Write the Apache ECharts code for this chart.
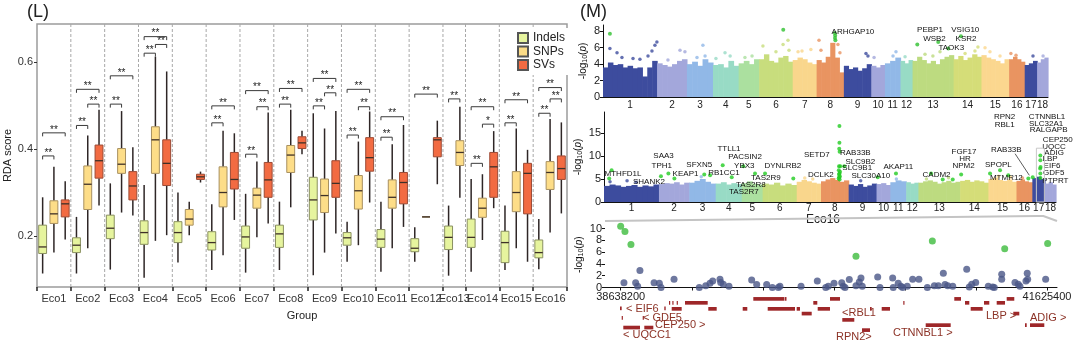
<!DOCTYPE html>
<html><head><meta charset="utf-8">
<script src="https://cdn.jsdelivr.net/npm/echarts@6/dist/echarts.min.js"></script>
<style>html,body{margin:0;padding:0;background:#fff}#c{width:1080px;height:348px}</style>
</head><body><div id="c"></div>
<script>
// ================= (L) RDA score boxplots =================
const groups = ['Eco1','Eco2','Eco3','Eco4','Eco5','Eco6','Eco7','Eco8','Eco9','Eco10','Eco11','Eco12','Eco13','Eco14','Eco15','Eco16'];
const typeNames = ['Indels','SNPs','SVs'];
// [min, Q1, median, Q3, max]
const indelsStats = [
 [0.114,0.160,0.175,0.225,0.289],[0.114,0.162,0.179,0.196,0.244],[0.123,0.194,0.218,0.248,0.321],
 [0.104,0.181,0.208,0.235,0.317],[0.139,0.185,0.208,0.233,0.300],[0.122,0.168,0.185,0.210,0.273],
 [0.116,0.172,0.198,0.223,0.297],[0.122,0.174,0.205,0.225,0.279],[0.110,0.237,0.283,0.335,0.482],
 [0.141,0.179,0.196,0.208,0.233],[0.118,0.174,0.193,0.215,0.279],[0.141,0.164,0.172,0.194,0.220],
 [0.109,0.169,0.197,0.223,0.270],[0.118,0.174,0.197,0.239,0.331],[0.122,0.139,0.185,0.211,0.270],
 [0.124,0.150,0.162,0.191,0.239]
];
const snpsStats = [
 [0.162,0.229,0.251,0.281,0.359],[0.172,0.261,0.319,0.361,0.431],[0.254,0.344,0.365,0.401,0.487],
 [0.189,0.344,0.421,0.451,0.612],[0.202,0.225,0.239,0.261,0.279],[0.156,0.267,0.300,0.359,0.442],
 [0.197,0.264,0.294,0.310,0.371],[0.266,0.346,0.386,0.408,0.490],[0.162,0.254,0.293,0.331,0.447],
 [0.179,0.262,0.304,0.339,0.417],[0.172,0.264,0.289,0.329,0.411],[0.244,0.244,0.244,0.244,0.244],
 [0.288,0.362,0.392,0.419,0.497],[0.191,0.243,0.264,0.287,0.342],[0.172,0.256,0.300,0.348,0.447],
 [0.208,0.307,0.346,0.371,0.469]
];
const svsStats = [
 [0.192,0.244,0.274,0.283,0.326],[0.270,0.333,0.373,0.409,0.490],[0.247,0.283,0.315,0.348,0.404],
 [0.202,0.316,0.367,0.421,0.578],[0.323,0.330,0.336,0.342,0.348],[0.237,0.308,0.330,0.392,0.436],
 [0.229,0.289,0.329,0.369,0.484],[0.388,0.401,0.414,0.428,0.442],[0.206,0.289,0.321,0.373,0.487],
 [0.277,0.349,0.380,0.426,0.486],[0.221,0.274,0.323,0.346,0.455],[0.319,0.382,0.421,0.426,0.465],
 null,[0.264,0.289,0.359,0.392,0.441],[0.141,0.251,0.344,0.367,0.398],[0.252,0.330,0.355,0.384,0.461]
];
// [group index, type a, type b, bracket height, label]
const sigPairs = [
 [0,0,1,0.384,'**'],[0,0,2,0.437,'**'],
 [1,0,1,0.454,'**'],[1,1,2,0.503,'**'],[1,0,2,0.537,'**'],
 [2,0,1,0.503,'**'],[2,0,2,0.568,'**'],
 [3,0,1,0.620,'**'],[3,1,2,0.640,'**'],[3,0,2,0.658,'**'],
 [5,0,1,0.460,'**'],[5,0,2,0.499,'**'],
 [6,0,1,0.388,'**'],[6,1,2,0.497,'**'],[6,0,2,0.534,'**'],
 [7,0,1,0.503,'**'],[7,0,2,0.539,'**'],
 [8,0,1,0.499,'**'],[8,1,2,0.529,'**'],[8,0,2,0.562,'**'],
 [9,0,1,0.432,'**'],[9,1,2,0.497,'**'],[9,0,2,0.537,'**'],
 [10,0,1,0.427,'**'],[10,0,2,0.474,'**'],
 [11,0,2,0.526,'**'],
 [12,0,1,0.515,'**'],
 [13,0,1,0.367,'**'],[13,1,2,0.457,'*'],[13,0,2,0.497,'**'],
 [14,0,1,0.460,'**'],[14,0,2,0.513,'**'],
 [15,0,1,0.482,'**'],[15,1,2,0.515,'**'],[15,0,2,0.541,'**']
];
const rdaTicks = [0.2, 0.4, 0.6];

// ================= (M) GWAS =================
const chrNames = ['1','2','3','4','5','6','7','8','9','10','11','12','13','14','15','16','17','18'];
const chrSizesMb = [274,151,132,130,104,170,121,138,139,69,79,61,208,141,140,79,63,55];
// upper envelope of the dense SNP cloud, genome-wide panel
const topEnvelope = [
 [3.6,4.2,3.9,4.0,3.6,3.8,3.5,3.6,2.5,3.6,4.4],[4.1,3.9,3.7,4.0,4.4,4.6],[4.0,4.3,3.8,4.6,4.2],
 [3.9,4.0,3.6,4.4,3.8],[4.1,4.4,4.0,4.6],[4.6,5.2,4.4,4.2,4.8,5.0,4.3],[4.5,4.8,4.6,4.2,4.0],
 [4.5,4.2,4.9,6.6,4.8,3.0],[3.8,3.4,3.6,3.2,3.5,4.0],[3.8,3.6,3.9],[4.1,4.4,4.8],[4.4,4.1,4.5],
 [4.4,4.9,4.5,4.1,4.4,4.0,4.6,4.9,5.1],[4.6,5.0,4.5,4.8,5.2,4.9],[5.1,4.8,4.6,4.4,4.1,4.6],
 [4.6,4.9,4.6,4.3],[3.9,4.1,4.4],[4.2,4.6,4.8]
];
// [chromosome, position (Mb), -log10 p]
const topPoints = [
 [1,35,5.9],[1,71,5.4],[1,96,4.8],[1,152,4.7],[1,187,4.6],[1,228,5.0],[1,248,5.6],[1,263,6.3],[1,273,6.7],
 [2,55,4.5],[2,116,5.7],[2,141,5.5],[3,51,4.8],[3,81,6.3],[3,92,5.0],[4,15,4.7],[4,61,5.4],[4,87,5.0],
 [5,32,4.8],[5,68,5.0],[6,19,6.2],[6,85,5.5],[6,121,6.4],[6,146,6.9],[6,151,5.7],[7,27,5.5],[7,47,5.6],[7,92,5.8],
 [8,12,6.9],[8,22,5.7],[8,108,6.4],[8,118,5.4],[9,112,5.3],[9,122,5.0],[10,14,4.8],[11,41,5.0],[11,56,5.5],
 [12,23,4.9],[13,63,5.2],[13,103,5.0],[13,139,5.5],[14,58,5.3],[14,108,5.6],[14,123,6.1],[15,18,6.0],[15,43,5.5],
 [15,94,5.0],[16,9,5.3],[16,35,5.1],[17,42,5.0],[18,30,5.0]
];
const topHits = [[1,35,7.7],[6,122,8.2],[8,92,7.8],[8,94,7.5],[8,93,7.2],[8,95,6.9],[13,24,6.4],[13,130,6.7],[13,181,5.9],[14,37,7.4]];
// [genome position (Mb), -log10 p, gene]
const topLabels = [[1266,7.92,'ARHGAP10'],[1656,8.2,'PEBP1'],[1835,8.2,'VSIG10'],[1679,7.1,'WSB2'],[1839,7.1,'KSR2'],[1764,6.0,'TAOK3']];

// Eco16 genome-wide panel
const midEnvelope = [
 [3.5,3.8,3.6,3.3,3.5,3.7,3.3,3.6,3.4,3.8],[3.9,4.1,4.0,4.3,3.8,4.2],[4.2,4.6,5.0,4.4,4.0],
 [4.0,4.3,3.8,4.1,3.9],[4.1,4.5,4.0,3.8],[4.0,3.8,4.2,3.6,4.0,3.7],[4.4,4.8,4.5,4.2,4.0],
 [4.5,4.9,5.2,4.8,4.4,4.7],[3.8,3.5,3.9,3.3,3.6,4.0],[3.9,4.1,3.7],[4.3,4.7,4.5],[4.3,4.0,4.2],
 [4.2,4.5,4.7,4.4,4.0,4.3,4.6,4.2,4.4],[4.6,4.8,4.4,4.7,4.5,4.2],[5.0,5.3,4.8,4.6,4.9,4.4],
 [4.6,4.9,4.5,4.3],[5.2,5.5,5.0],[4.0,4.3,3.8]
];
const midPoints = [[1,30,4.4],[1,115,4.6],[1,160,4.3],[3,60,5.5],[7,40,5.2],[7,80,5.0],[9,60,4.6],[11,30,5.0],
 [13,40,5.0],[13,150,5.3],[15,50,5.6],[15,110,5.4],[16,30,5.2]];
const midHits = [
 [1,38,6.9],[1,26,5.1],[2,10,5.6],[2,47,6.2],[2,77,5.1],[3,75,6.0],[3,104,5.8],[4,35,8.0],[4,80,5.4],
 [5,8,7.8],[5,66,6.2],[6,12,6.2],[6,153,5.1],
 [8,92,16.5],[8,92,12.9],[8,91,11.6],[8,93,10.9],[8,96,7.8],[8,90,7.8],[8,89,6.9],[8,92,6.2],[8,91,5.4],
 [8,94,5.6],[8,88,5.1],[8,95,6.6],[8,90,6.0],[8,93,4.9],[8,116,7.8],
 [10,6,5.4],[11,28,6.2],[13,63,6.2],[13,121,4.9],[13,171,4.9],[14,5,6.0],[15,8,6.2],[15,58,6.9],[15,99,5.8],
 [16,59,5.1],[17,2,5.4],
 [17,40,10.1],[17,40,9.1],[17,41,7.6],[17,39,7.3],[17,40,6.2],[17,40,5.2]
];
const midLabels = [
 [94.8,6.2,'MTHFD1L'],[224.4,4.5,'SHANK2'],[296.8,10.0,'SAA3'],[287.8,7.8,'TPH1'],[406.5,6.2,'KEAP1'],
 [474.8,8.0,'SFXN5'],[598.5,6.3,'RB1CC1'],[623.4,11.6,'TTLL1'],[703.2,9.8,'PACSIN2'],[699.8,7.8,'YBX3'],
 [891.8,7.8,'DYNLRB2'],[807.0,5.2,'TAS2R9'],[732.2,3.8,'TAS2R8'],[697.3,2.3,'TAS2R7'],[1061.3,10.2,'SETD7'],
 [1081.3,6.0,'DCLK2'],[1253.4,10.7,'RAB33B'],[1278.3,8.7,'SLC9B2'],[1262.8,7.4,'SLC9B1'],[1330.7,5.6,'SLC30A10'],
 [1467.8,7.6,'AKAP11'],[1658.4,6.0,'CADM2'],[1795.5,10.9,'FGF17'],[1800.5,9.3,'HR'],[1793.0,7.8,'NPM2'],
 [1966.6,8.0,'SPOPL'],[2006.5,5.2,'MTMR12'],[2006.0,11.4,'RAB33B'],[1997.5,18.5,'RPN2'],[1998.5,16.7,'RBL1'],
 [2209.5,18.5,'CTNNBL1'],[2204.5,16.9,'SLC32A1'],[2217.0,15.6,'RALGAPB'],[2262.8,13.6,'CEP250'],
 [2244.4,12.1,'UQCC'],[2244.4,10.7,'ADIG'],[2224.4,9.3,'LBP'],[2234.4,7.8,'EIF6'],[2242.9,6.3,'GDF5'],[2250.9,4.7,'PTPRT']
];
const midPointer = [[2050,10.5,2121,5.8]];
const regionChr = 17;
const regionMb = [38.6382, 41.6254];

// regional plot chr17: [position (Mb), -log10 p]
const regionPoints = [
 [38.773,2.9],[38.661,0.8],[38.743,0.8],[38.757,0.2],[38.872,0.8],[38.909,0.7],[38.921,0.0],[39.012,1.4],
 [39.189,0.0],[39.234,0.3],[39.264,0.7],[39.283,1.1],[39.334,1.4],[39.339,0.85],[39.357,0.55],[39.397,0.2],
 [39.556,1.25],[39.591,0.5],[39.661,0.5],[39.701,0.0],[39.743,0.0],[39.754,0.2],[39.902,0.2],[40.016,1.1],
 [40.075,0.0],[40.093,0.2],[40.133,0.7],[40.187,0.8],[40.198,0.2],[40.210,0.0],[40.240,1.35],[40.287,0.3],
 [40.310,0.95],[40.322,1.6],[40.331,0.2],[40.439,1.8],[40.455,0.0],[40.544,1.6],[40.548,0.0],[40.583,0.7],
 [40.602,0.2],[40.614,0.0],[40.646,0.2],[40.684,1.4],[40.728,1.4],[40.787,0.0],[40.836,0.3],[40.864,0.3],
 [40.899,2.4],[40.911,0.5],[40.930,0.3],[40.965,0.2],[41.063,3.1],[41.081,0.1],[41.098,0.55],[41.126,0.85],
 [41.214,0.2],[41.245,0.1],[41.256,0.0],[41.308,2.25],[41.308,1.4],[41.401,0.85],[41.424,0.55],[41.436,0.2],
 [41.478,1.1],[41.487,2.4],[41.490,1.4],[41.616,1.4]
];
const regionHits = [[38.638,10.4],[38.668,9.5],[38.710,7.3],[40.287,5.3],[40.822,7.9],[41.329,6.55],[41.630,7.45]];
const regionTicksMb = [38.6382,39.1361,39.6340,40.1318,40.6297,41.1275,41.6254];
const regionLabelsMb = [38.6382, 41.6254];
// genes: [start Mb, end Mb, track row]
const geneBlocks = [
 [39.5674,39.7847,0.2],[39.788,39.800,0.2],[40.1048,40.1749,0.2],[40.9758,41.0228,0.2],[41.3430,41.3962,0.2],
 [39.0888,39.2478,0.95],[38.9767,38.9837,0.95],[39.0000,39.0070,0.95],[39.0306,39.0376,0.95],[39.9878,40.0158,0.95],
 [40.6184,40.6254,0.95],[41.0508,41.0809,0.95],[41.1839,41.2211,0.95],[41.2729,41.3310,0.95],
 [38.6333,38.6452,2.0],[38.9437,38.9535,2.0],[38.9956,39.0656,2.1],[39.2520,39.3109,2.1],[39.4931,39.5253,2.1],
 [39.6683,39.8596,2.1],[39.8714,39.8945,2.1],[40.0186,40.1048,2.1],[40.3851,40.3970,2.1],[40.4671,40.5253,2.1],
 [41.0907,41.1748,2.1],
 [39.9065,39.9766,3.0],[41.3892,41.4313,3.0],
 [40.1910,40.2751,4.2],[38.6452,38.6522,3.8],[38.7924,38.7994,3.8],
 [40.7754,40.9506,5.2],[41.5063,41.6065,5.2],[41.4713,41.4832,5.2],[38.6564,38.7734,5.66],[38.8036,38.8667,5.66],
 [40.3291,40.3851,6.15]
];
// gene names: [label start Mb, track row, text]
const geneNames = [
 [38.675,2.48,'< EIF6'],[38.794,4.25,'< GDF5'],[38.879,5.52,'CEP250 >'],[38.654,7.43,'< UQCC1'],
 [40.189,3.30,'<RBL1'],[40.147,7.75,'RPN2>'],[40.546,7.10,'CTNNBL1 >'],[41.198,3.75,'LBP >'],[41.506,4.25,'ADIG >']
];

// ================= build =================
const FONT = '"Liberation Sans", Arial, sans-serif';
const chrPalette = ['#3d4c9e','#a3a7db','#91b8e7','#98dbc5','#abe09f','#c8dd7d','#f9d68c','#e99461',
  '#3d4c9e','#a3a7db','#91b8e7','#98dbc5','#bddb80','#d5dd78','#fbd78f','#e99461','#3d4c9e','#a3a7db'];
const boxFill = ['#e6f49e','#fddd88','#f26b42'];
const boxBorder = ['#8a9060','#a89060','#9c4a34'];

const statsByType = [indelsStats, snpsStats, svsStats];
const slotOf = {}; const gStart = [], gEnd = [];
let cursor = 0;
groups.forEach((g, i) => {
  gStart.push(cursor);
  statsByType.forEach((st, t) => { if (st[i]) { slotOf[i + '_' + t] = cursor + 0.5; cursor++; } });
  gEnd.push(cursor);
});
const totalSlots = cursor;
const gCenters = groups.map((g, i) => (gStart[i] + gEnd[i]) / 2);
const boundaries = [0].concat(gEnd);

const chrStart = []; let acc = 0;
chrSizesMb.forEach(s => { chrStart.push(acc); acc += s; });
const genomeLen = acc;
const chrCenters = chrSizesMb.map((s, i) => chrStart[i] + s / 2);
const gpos = (c, p) => chrStart[c - 1] + p;

function envelopeItems(env) {
  const out = [];
  env.forEach((arr, c) => {
    const w = chrSizesMb[c] / arr.length;
    arr.forEach((h, k) => out.push([chrStart[c] + k * w, chrStart[c] + (k + 1) * w, h, c]));
  });
  return out;
}
function renderEnv(params, api) {
  const p0 = api.coord([api.value(0), 0]);
  const p1 = api.coord([api.value(1), api.value(2)]);
  return { type: 'rect', shape: { x: p0[0], y: p1[1], width: p1[0] - p0[0] + 0.6, height: p0[1] - p1[1] },
    style: { fill: chrPalette[api.value(3)] } };
}
function textSeries(list, ai, size, color, align, valign) {
  return { type: 'custom', xAxisIndex: ai, yAxisIndex: ai, silent: true, z: 6,
    data: list.map(d => [d[0], d[1]]),
    renderItem: (params, api) => {
      const p = api.coord([api.value(0), api.value(1)]);
      return { type: 'text', x: p[0], y: p[1], style: { text: list[params.dataIndex][2], fontSize: size,
        fontFamily: FONT, fill: color, align: align, verticalAlign: valign } };
    } };
}
function chrLabelFmt(v) {
  let best = 0, bd = 1e9;
  chrCenters.forEach((c, i) => { const d = Math.abs(c - v); if (d < bd) { bd = d; best = i; } });
  return chrNames[best];
}
const logName = '-log{s|10}({i|p})';
const logNameStyle = { fontSize: 10, fontFamily: FONT, color: '#111',
  rich: { s: { fontSize: 7, fontFamily: FONT, verticalAlign: 'bottom', padding: [4, 0, 0, 0] }, i: { fontSize: 10, fontFamily: FONT, fontStyle: 'italic' } } };
const axisLbl = { fontSize: 11, fontFamily: FONT, color: '#222', showMinLabel: true, showMaxLabel: true, hideOverlap: false };
const chrLbl = { fontSize: 10, fontFamily: FONT, color: '#222', showMinLabel: true, showMaxLabel: true, hideOverlap: false };

const regionXMin = 38.5282, regionXMax = 41.6955, regionYMax = 11.1;
const regionCenterG = gpos(regionChr, (regionMb[0] + regionMb[1]) / 2);

const series = [];
// separators
series.push({ type: 'custom', xAxisIndex: 0, yAxisIndex: 0, silent: true, z: 1,
  data: gEnd.slice(0, -1).map(v => [v]),
  renderItem: (params, api) => {
    const cs = params.coordSys; const x = api.coord([api.value(0), 0.3])[0];
    return { type: 'line', shape: { x1: x, y1: cs.y, x2: x, y2: cs.y + cs.height },
      style: { stroke: '#a8a8a8', lineWidth: 1, lineDash: [3, 2] } };
  } });
// boxes
typeNames.forEach((name, t) => {
  const data = [];
  groups.forEach((g, i) => { const s = statsByType[t][i]; if (s) data.push([slotOf[i + '_' + t]].concat(s)); });
  series.push({ type: 'custom', name: name, xAxisIndex: 0, yAxisIndex: 0, z: 3,
    itemStyle: { color: boxFill[t], borderColor: '#555', borderWidth: 1 },
    encode: { x: 0, y: [1, 2, 3, 4, 5] }, data: data,
    renderItem: (params, api) => {
      const s = api.value(0);
      const pMin = api.coord([s, api.value(1)]), pQ1 = api.coord([s, api.value(2)]), pMd = api.coord([s, api.value(3)]);
      const pQ3 = api.coord([s, api.value(4)]), pMax = api.coord([s, api.value(5)]);
      const w = api.size([0.7, 0])[0]; const x = pMd[0];
      const wl = { stroke: '#2e2626', lineWidth: 1.5 };
      return { type: 'group', children: [
        { type: 'line', shape: { x1: x, y1: pMax[1], x2: x, y2: pQ3[1] }, style: wl },
        { type: 'line', shape: { x1: x, y1: pQ1[1], x2: x, y2: pMin[1] }, style: wl },
        { type: 'rect', shape: { x: x - w / 2, y: pQ3[1], width: w, height: pQ1[1] - pQ3[1] },
          style: { fill: boxFill[t], stroke: boxBorder[t], lineWidth: 1 } },
        { type: 'line', shape: { x1: x - w / 2, y1: pMd[1], x2: x + w / 2, y2: pMd[1] }, style: { stroke: '#3e3028', lineWidth: 1.3 } }
      ] };
    } });
});
// significance brackets
series.push({ type: 'custom', xAxisIndex: 0, yAxisIndex: 0, silent: true, z: 4,
  data: sigPairs.map(p => [slotOf[p[0] + '_' + p[1]], slotOf[p[0] + '_' + p[2]], p[3]]),
  renderItem: (params, api) => {
    const a = api.coord([api.value(0), api.value(2)]), b = api.coord([api.value(1), api.value(2)]);
    const d = 3.5;
    return { type: 'group', children: [
      { type: 'polyline', shape: { points: [[a[0], a[1] + d], [a[0], a[1]], [b[0], b[1]], [b[0], b[1] + d]] },
        style: { stroke: '#3a3a3a', lineWidth: 1, fill: null } },
      { type: 'text', x: (a[0] + b[0]) / 2, y: a[1] - 3, style: { text: sigPairs[params.dataIndex][4], fontSize: 10,
        fontFamily: FONT, fill: '#222', align: 'center', verticalAlign: 'middle' } }
    ] };
  } });

// top manhattan
series.push({ type: 'custom', xAxisIndex: 1, yAxisIndex: 1, silent: true, data: envelopeItems(topEnvelope), renderItem: renderEnv });
series.push({ type: 'scatter', xAxisIndex: 1, yAxisIndex: 1, silent: true, symbolSize: 3.5,
  data: topPoints.map(d => [gpos(d[0], d[1]), d[2], d[0] - 1]), itemStyle: { color: p => chrPalette[p.data[2]] } });
series.push({ type: 'scatter', xAxisIndex: 1, yAxisIndex: 1, silent: true, symbolSize: 4, z: 5,
  data: topHits.map(d => [gpos(d[0], d[1]), d[2]]), itemStyle: { color: '#2fc02f' } });
series.push(textSeries(topLabels, 1, 8, '#111', 'center', 'middle'));

// middle manhattan (Eco16)
series.push({ type: 'custom', xAxisIndex: 2, yAxisIndex: 2, silent: true, data: envelopeItems(midEnvelope), renderItem: renderEnv });
series.push({ type: 'scatter', xAxisIndex: 2, yAxisIndex: 2, silent: true, symbolSize: 3.5,
  data: midPoints.map(d => [gpos(d[0], d[1]), d[2], d[0] - 1]), itemStyle: { color: p => chrPalette[p.data[2]] } });
series.push({ type: 'scatter', xAxisIndex: 2, yAxisIndex: 2, silent: true, symbolSize: 4, z: 5,
  data: midHits.map(d => [gpos(d[0], d[1]), d[2]]), itemStyle: { color: '#22cc22' } });
series.push(textSeries(midLabels, 2, 8, '#111', 'center', 'middle'));
series.push({ type: 'custom', xAxisIndex: 2, yAxisIndex: 2, silent: true, z: 6, data: midPointer,
  renderItem: (params, api) => {
    const a = api.coord([api.value(0), api.value(1)]), b = api.coord([api.value(2), api.value(3)]);
    return { type: 'line', shape: { x1: a[0], y1: a[1], x2: b[0], y2: b[1] }, style: { stroke: '#333', lineWidth: 0.8 } };
  } });
series.push({ type: 'custom', xAxisIndex: 2, yAxisIndex: 2, silent: true, z: 7, data: [[regionCenterG, 11.7]],
  renderItem: (params, api) => {
    const top = api.coord([api.value(0), api.value(1)]), bot = api.coord([api.value(0), 0]);
    return { type: 'rect', shape: { x: top[0] - 4, y: top[1], width: 8, height: bot[1] - top[1] },
      style: { fill: null, stroke: '#c8c8c8', lineWidth: 1 } };
  } });

// regional plot
series.push({ type: 'scatter', xAxisIndex: 3, yAxisIndex: 3, silent: true, symbolSize: 7, data: regionPoints,
  itemStyle: { color: '#4a5687' } });
series.push({ type: 'scatter', xAxisIndex: 3, yAxisIndex: 3, silent: true, symbolSize: 7, data: regionHits,
  itemStyle: { color: '#3dbb3d' } });
// genes
series.push({ type: 'custom', xAxisIndex: 4, yAxisIndex: 4, silent: true, data: geneBlocks,
  renderItem: (params, api) => {
    const a = api.coord([api.value(0), api.value(2)]), b = api.coord([api.value(1), api.value(2) + 0.7]);
    return { type: 'rect', shape: { x: a[0], y: a[1], width: Math.max(b[0] - a[0], 1.2), height: b[1] - a[1] },
      style: { fill: '#9e2729' } };
  } });
series.push(textSeries(geneNames, 4, 11, '#8c3226', 'left', 'middle'));

const option = {
  animation: false,
  backgroundColor: '#fff',
  title: [
    { text: '(L)', left: 27, top: 3, padding: 0, textStyle: { fontSize: 18, fontWeight: 'normal', fontFamily: FONT, color: '#222' } },
    { text: '(M)', left: 580, top: 3, padding: 0, textStyle: { fontSize: 18, fontWeight: 'normal', fontFamily: FONT, color: '#222' } }
  ],
  legend: { data: typeNames, orient: 'vertical', left: 512, top: 28, padding: [4, 6, 4, 5], itemWidth: 10, itemHeight: 10,
    itemGap: 1.5, icon: 'rect', backgroundColor: '#fff', textStyle: { fontSize: 12, fontFamily: FONT, color: '#222', lineHeight: 12 } },
  grid: [
    { left: 37, top: 24, width: 530, height: 263, show: true, borderColor: '#9c9c9c', borderWidth: 1.5, backgroundColor: 'transparent' },
    { left: 603, top: 25, width: 445, height: 72 },
    { left: 604, top: 112, width: 452, height: 90 },
    { left: 605, top: 222, width: 452, height: 65.5 },
    { left: 605, top: 296, width: 452, height: 42 }
  ],
  xAxis: [
    { type: 'value', gridIndex: 0, min: 0, max: totalSlots, name: 'Group', nameLocation: 'middle', nameGap: 23,
      nameTextStyle: { fontSize: 11, fontFamily: FONT, color: '#222' },
      axisLine: { show: false }, splitLine: { show: false },
      axisTick: { show: true, customValues: boundaries, length: 4, lineStyle: { color: '#222', width: 1.5 } },
      axisLabel: { customValues: gCenters, margin: 6, fontSize: 11, fontFamily: FONT, color: '#333', showMinLabel: true, showMaxLabel: true, hideOverlap: false,
        formatter: v => { let b = 0, bd = 1e9; gCenters.forEach((c, i) => { if (Math.abs(c - v) < bd) { bd = Math.abs(c - v); b = i; } }); return groups[b]; } } },
    { type: 'value', gridIndex: 1, min: 0, max: genomeLen, splitLine: { show: false },
      axisLine: { show: true, onZero: false, lineStyle: { color: '#111', width: 1 } }, axisTick: { show: false },
      axisLabel: Object.assign({ customValues: chrCenters, margin: 3, formatter: chrLabelFmt }, chrLbl) },
    { type: 'value', gridIndex: 2, min: 0, max: genomeLen, splitLine: { show: false }, name: 'Eco16', nameLocation: 'middle', nameGap: 10,
      nameTextStyle: { fontSize: 12, fontFamily: FONT, color: '#222', padding: [0, 14, 0, 0] },
      axisLine: { show: true, onZero: false, lineStyle: { color: '#111', width: 1 } }, axisTick: { show: false },
      axisLabel: Object.assign({ customValues: chrCenters, margin: 1, formatter: chrLabelFmt }, chrLbl) },
    { type: 'value', gridIndex: 3, min: regionXMin, max: regionXMax, splitLine: { show: false },
      axisLine: { show: true, onZero: false, lineStyle: { color: '#111', width: 1 } },
      axisTick: { show: true, customValues: regionTicksMb, length: 3, lineStyle: { color: '#111' } },
      axisLabel: Object.assign({ customValues: regionLabelsMb, margin: 4, formatter: v => String(Math.round(v * 1e6)) }, axisLbl) },
    { type: 'value', gridIndex: 4, min: regionXMin, max: regionXMax, show: false }
  ],
  yAxis: [
    { type: 'value', gridIndex: 0, min: 0.083, max: 0.687, name: 'RDA score', nameLocation: 'middle', nameGap: 24,
      nameTextStyle: { fontSize: 11, fontFamily: FONT, color: '#222' },
      axisLine: { show: false }, splitLine: { show: false },
      axisTick: { show: true, customValues: rdaTicks, length: 3, lineStyle: { color: '#333' } },
      axisLabel: { customValues: rdaTicks, fontSize: 11, fontFamily: FONT, color: '#333', margin: 4, formatter: v => v.toFixed(1) } },
    { type: 'value', gridIndex: 1, min: 0, max: 8.77, splitLine: { show: false }, name: logName, nameLocation: 'middle', nameGap: 14,
      nameTextStyle: logNameStyle, axisLine: { show: true, lineStyle: { color: '#111' } },
      axisTick: { show: true, customValues: [0, 2, 4, 6, 8], length: 3, lineStyle: { color: '#111' } },
      axisLabel: Object.assign({ customValues: [0, 2, 4, 6, 8], margin: 3 }, axisLbl) },
    { type: 'value', gridIndex: 2, min: 0, max: 19.57, splitLine: { show: false }, name: logName, nameLocation: 'middle', nameGap: 20,
      nameTextStyle: logNameStyle, axisLine: { show: true, lineStyle: { color: '#111' } },
      axisTick: { show: true, customValues: [0, 5, 10, 15], length: 3, lineStyle: { color: '#111' } },
      axisLabel: Object.assign({ customValues: [0, 5, 10, 15], margin: 3 }, axisLbl) },
    { type: 'value', gridIndex: 3, min: 0, max: regionYMax, splitLine: { show: false }, name: logName, nameLocation: 'middle', nameGap: 20,
      nameTextStyle: logNameStyle, axisLine: { show: false },
      axisTick: { show: true, customValues: [0, 2, 4, 6, 8, 10], length: 3, lineStyle: { color: '#111' } },
      axisLabel: Object.assign({ customValues: [0, 2, 4, 6, 8, 10], margin: 3 }, axisLbl) },
    { type: 'value', gridIndex: 4, min: 0, max: 8, inverse: true, show: false }
  ],
  series: series
};
const chart = echarts.init(document.getElementById('c'));
chart.setOption(option);
const tl = chart.convertToPixel({ xAxisIndex: 3, yAxisIndex: 3 }, [regionXMin, regionYMax]);
const tr = chart.convertToPixel({ xAxisIndex: 3, yAxisIndex: 3 }, [regionXMax, regionYMax]);
const hc = chart.convertToPixel({ xAxisIndex: 2, yAxisIndex: 2 }, [regionCenterG, 0]);
chart.setOption({ graphic: [{ type: 'polyline', silent: true, z: 1,
  shape: { points: [[tl[0], tl[1] - 1], [hc[0] - 3, hc[1] + 14], [hc[0] + 3, hc[1] + 14], [tr[0], tr[1] - 1]] },
  style: { stroke: '#c4c4c4', lineWidth: 2, fill: null } }] });
</script></body></html>
